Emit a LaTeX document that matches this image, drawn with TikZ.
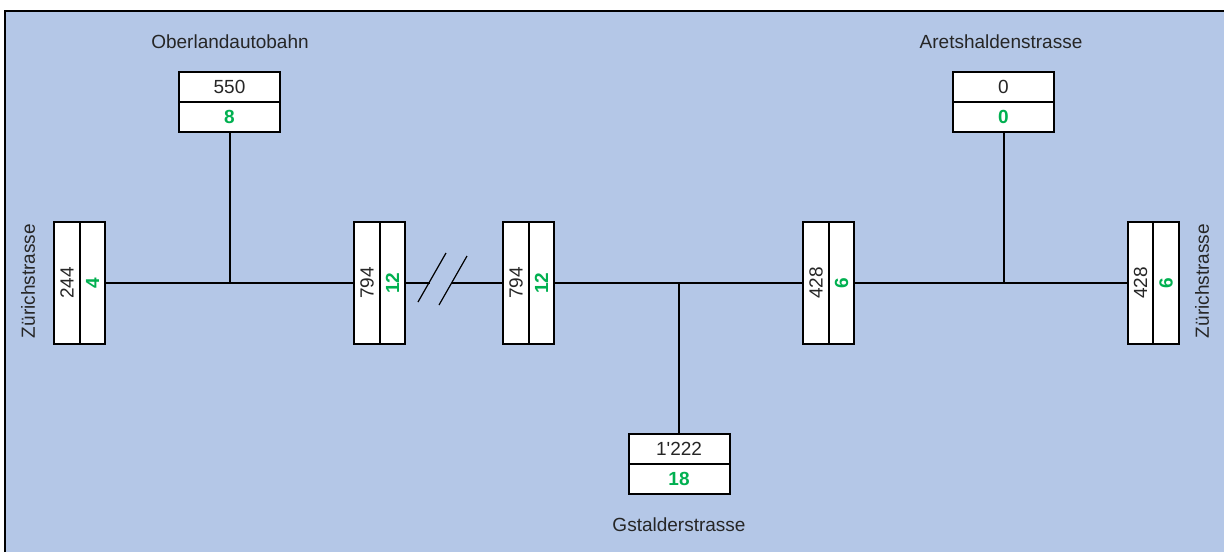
\documentclass[tikz,border=0pt]{standalone}
\usepackage{fontspec}
\setmainfont{Liberation Sans}
\usepackage{xcolor}
\usepackage{tikz}
\usetikzlibrary{positioning}
\definecolor{Panel}{HTML}{B4C7E7}
\definecolor{Ink}{HTML}{262626}
\definecolor{Count}{HTML}{00B050}

\begin{document}
\begin{tikzpicture}[x=0.5pt,y=-0.5pt,
  every node/.style={font=\fontsize{9.5}{11}\selectfont,text=Ink,inner sep=0pt},
  cellv/.style={draw=black,line width=1pt,fill=white,outer sep=0pt,rotate=90,
    minimum width=61pt,minimum height=12.75pt},
  cellh/.style={draw=black,line width=1pt,fill=white,outer sep=0pt,
    minimum width=50.5pt,minimum height=15pt},
  hot/.style={text=Count,font=\fontsize{9.5}{11}\selectfont\bfseries},
  road/.style={draw=black,line width=1pt},
  cut/.style={draw=black,line width=0.6pt}]
  \useasboundingbox (0,0) rectangle (1224,552);
  \fill[Panel] (5,11) rectangle (1224,552);
  \draw[line width=1pt] (5,552) -- (5,11) -- (1224,11);

  % junctions on the main road
  \coordinate (jO) at (229.5,283);
  \coordinate (jG) at (679,283);
  \coordinate (jA) at (1003.5,283);

  % cross sections along the main road (left side = north anchor)
  \node[cellv] (w244) at (67,283) {244};
  \node[cellv,hot,anchor=north] (w4) at (w244.south) {4};
  \node[cellv] (a794) at (367,283) {794};
  \node[cellv,hot,anchor=north] (a12) at (a794.south) {12};
  \node[cellv] (b794) at (516,283) {794};
  \node[cellv,hot,anchor=north] (b12) at (b794.south) {12};
  \node[cellv] (c428) at (816,283) {428};
  \node[cellv,hot,anchor=north] (c6) at (c428.south) {6};
  \node[cellv] (e428) at (1140.5,283) {428};
  \node[cellv,hot,anchor=north] (e6) at (e428.south) {6};

  % side roads
  \node[cellh] (o550) at (229.5,87) {550};
  \node[cellh,hot,below=0pt of o550] (o8) {8};
  \node[cellh] (r0) at (1003.5,87) {0};
  \node[cellh,hot,below=0pt of r0] (r0b) {0};
  \node[cellh] (g1222) at (679,448.5) {1\textquotesingle 222};
  \node[cellh,hot,below=0pt of g1222] (g18) {18};

  % street names
  \node (lblO) at (230,42) {Oberlandautobahn};
  \node (lblA) at (1001,42) {Aretshaldenstrasse};
  \node (lblG) at (679,525) {Gstalderstrasse};
  \node[rotate=90] (lblW) at (28,281) {Zürichstrasse};
  \node[rotate=90] (lblE) at (1202,281) {Zürichstrasse};

  % break in the road
  \coordinate (k1a) at (418,302);
  \coordinate (k1b) at (446,253);
  \coordinate (k2a) at (439,305);
  \coordinate (k2b) at (467,256);
  \coordinate (kL) at (429.7,283);
  \coordinate (kR) at (452,283);
  \draw[cut] (k1a) -- (k1b);
  \draw[cut] (k2a) -- (k2b);

  \draw[road] (w4.south) -- (jO) -- (a794.north);
  \draw[road] (a12.south) -- (kL);
  \draw[road] (kR) -- (b794.north);
  \draw[road] (b12.south) -- (jG) -- (c428.north);
  \draw[road] (c6.south) -- (jA) -- (e428.north);
  \draw[road] (jO) -- (o8.south);
  \draw[road] (jA) -- (r0b.south);
  \draw[road] (jG) -- (g1222.north);
\end{tikzpicture}
\end{document}
